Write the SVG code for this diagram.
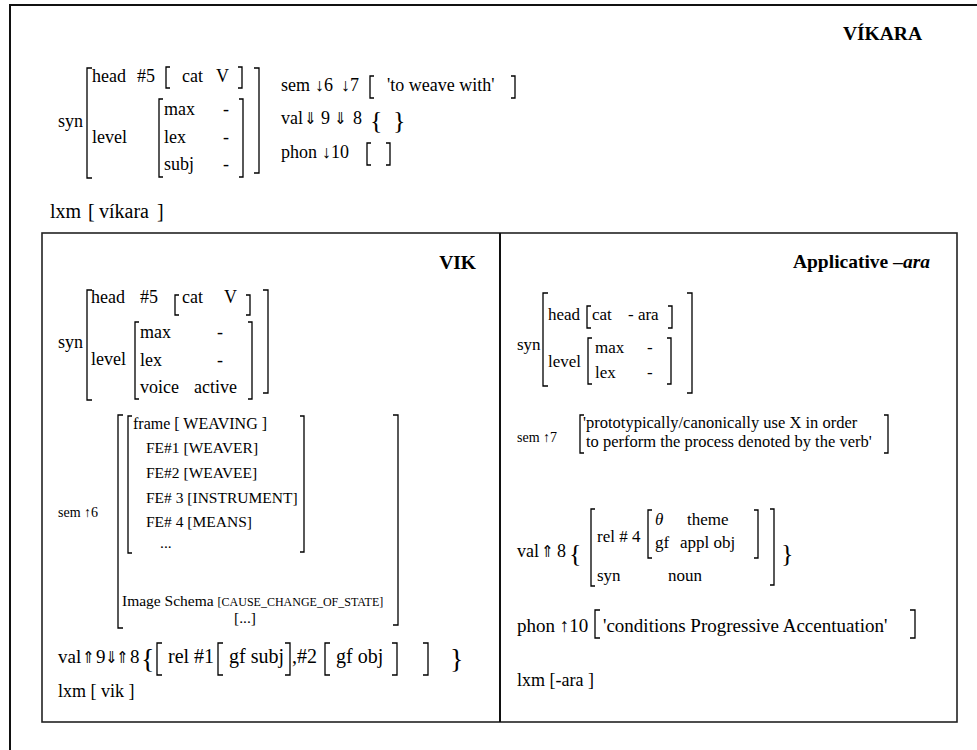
<svg xmlns="http://www.w3.org/2000/svg" width="977" height="750" viewBox="0 0 977 750">
<style>
.t{font-family:"Liberation Serif","Times New Roman",serif;fill:#000}
.ar{font-family:"DejaVu Sans Condensed","DejaVu Sans","Liberation Sans",sans-serif;font-stretch:condensed;font-size:16.5px;fill:#000}
.s18{font-size:18px}
.s17{font-size:17px}
.s16{font-size:16.5px}
.s15{font-size:15.5px}
.s14{font-size:14px}
.ttl{font-family:"Liberation Serif","Times New Roman",serif;font-weight:bold;font-size:19.5px;fill:#000}
.br{fill:none;stroke:#000;stroke-width:1.3}
.frame{fill:none;stroke:#111;stroke-width:2}
</style>
<rect width="977" height="750" fill="#fff"/>
<path class="frame" d="M10,750 V5 H977"/>

<g id="vikara">
  <text class="ttl" x="922" y="40" text-anchor="end">VÍKARA</text>
  <text class="t s18" x="58" y="127">syn</text>
  <path class="br" d="M92,68 H87 V178 H92 M254,68 H259 V173 H254"/>
  <text class="t s18" x="92" y="82">head</text>
  <text class="t s18" x="137" y="82">#5</text>
  <path class="br" d="M170,67 H166 V88 H170 M238,67 H242 V88 H238"/>
  <text class="t s18" x="182" y="82">cat</text>
  <text class="t s18" x="216" y="82">V</text>
  <text class="t s18" x="92" y="143">level</text>
  <path class="br" d="M163,99 H159 V177 H163 M239,99 H243 V177 H239"/>
  <text class="t s18" x="164" y="115">max</text>
  <text class="t s18" x="223" y="115">-</text>
  <text class="t s18" x="164" y="143">lex</text>
  <text class="t s18" x="223" y="143">-</text>
  <text class="t s18" x="164" y="170">subj</text>
  <text class="t s18" x="223" y="170">-</text>
  <text class="t s18" y="91"><tspan x="281">sem</tspan><tspan x="315">↓6</tspan><tspan x="341">↓7</tspan></text>
  <path class="br" d="M374,76 H370 V98 H374 M511,76 H515 V98 H511"/>
  <text class="t s18" x="387" y="91">'to weave with'</text>
  <text class="t s18" x="281" y="124">val</text>
  <text class="ar" x="304" y="124">⇓</text>
  <text class="t s18" x="321" y="124">9</text>
  <text class="ar" x="334" y="124">⇓</text>
  <text class="t s18" x="353" y="124">8</text>
  <text class="t" style="font-size:26px" x="370" y="129">{</text>
  <text class="t" style="font-size:26px" x="393" y="129">}</text>
  <text class="t s18" y="158"><tspan x="281">phon</tspan><tspan x="322">↓10</tspan></text>
  <path class="br" d="M371,143 H367 V165 H371 M386,143 H390 V165 H386"/>
  <text class="t" style="font-size:20px" y="218"><tspan x="50">lxm</tspan><tspan x="88">[</tspan><tspan x="99">víkara</tspan><tspan x="157">]</tspan></text>
</g>

<g id="boxes">
  <rect x="42" y="233" width="915" height="489" fill="none" stroke="#222" stroke-width="1.6"/>
  <path d="M500,233 V722" stroke="#111" stroke-width="2"/>
</g>

<g id="vik">
  <text class="ttl" x="476" y="269" text-anchor="end">VIK</text>
  <text class="t s18" x="58" y="348">syn</text>
  <path class="br" d="M92,290 H87 V400 H92 M263,290 H268 V393 H263"/>
  <text class="t s18" x="91" y="303">head</text>
  <text class="t s18" x="140" y="303">#5</text>
  <path class="br" d="M179,295 H175 V315 H179 M246,295 H250 V315 H246"/>
  <text class="t s18" x="182" y="303">cat</text>
  <text class="t s18" x="224" y="303">V</text>
  <text class="t s18" x="91" y="365">level</text>
  <path class="br" d="M139,322 H135 V399 H139 M248,322 H252 V399 H248"/>
  <text class="t s18" x="140" y="338">max</text>
  <text class="t s18" x="217" y="338">-</text>
  <text class="t s18" x="140" y="366">lex</text>
  <text class="t s18" x="217" y="366">-</text>
  <text class="t s18" x="140" y="393">voice</text>
  <text class="t s18" x="194" y="393">active</text>

  <text class="t s14" x="58" y="517">sem ↑6</text>
  <path class="br" d="M123,415 H118 V628 H123 M393,415 H398 V625 H393"/>
  <path class="br" d="M132,416 H128 V553 H132 M300,416 H304 V552 H300"/>
  <text class="t" style="font-size:16px" x="133" y="429">frame  [ WEAVING ]</text>
  <text class="t s15" x="146" y="453">FE#1 [WEAVER]</text>
  <text class="t s15" x="146" y="478">FE#2 [WEAVEE]</text>
  <text class="t s15" x="146" y="503">FE# 3 [INSTRUMENT]</text>
  <text class="t s15" x="146" y="527">FE# 4 [MEANS]</text>
  <text class="t s15" x="160" y="548">...</text>
  <text class="t s15" x="122" y="606">Image Schema <tspan style="font-size:12px">[CAUSE_CHANGE_OF_STATE]</tspan></text>
  <text class="t s15" x="234" y="623">[...]</text>

  <text class="t" style="font-size:19px" x="58" y="663">val</text>
  <text class="ar" x="82" y="663">⇑</text>
  <text class="t" style="font-size:19px" x="96" y="663">9</text>
  <text class="ar" x="105" y="663">⇓</text>
  <text class="ar" x="116" y="663">⇑</text>
  <text class="t" style="font-size:19px" x="130" y="663">8</text>
  <text class="t" style="font-size:28px" x="141" y="668">{</text>
  <path class="br" d="M162,643 H157 V675 H162"/>
  <text class="t" style="font-size:20px" x="168" y="663">rel #1</text>
  <path class="br" d="M223,643 H218 V675 H223"/>
  <text class="t" style="font-size:20px" x="229" y="663">gf  subj</text>
  <path class="br" d="M285,643 H290 V675 H285"/>
  <text class="t" style="font-size:20px" x="292" y="663">,#2</text>
  <path class="br" d="M330,643 H325 V675 H330"/>
  <text class="t" style="font-size:20px" x="336" y="663">gf obj</text>
  <path class="br" d="M392,643 H397 V675 H392 M423,643 H428 V675 H423"/>
  <text class="t" style="font-size:28px" x="450" y="668">}</text>
  <text class="t s18" x="58" y="697">lxm  [ vik ]</text>
</g>

<g id="applicative">
  <text class="ttl" x="930" y="268" text-anchor="end">Applicative <tspan font-style="italic">–ara</tspan></text>
  <text class="t s17" x="517" y="350">syn</text>
  <path class="br" d="M548,293 H543 V386 H548 M687,293 H692 V393 H687"/>
  <text class="t s17" x="548" y="320">head</text>
  <path class="br" d="M591,306 H587 V328 H591 M668,306 H672 V328 H668"/>
  <text class="t s17" x="592" y="320">cat</text>
  <text class="t s17" x="628" y="320">- ara</text>
  <text class="t s17" x="548" y="367">level</text>
  <path class="br" d="M592,338 H588 V384 H592 M667,338 H671 V384 H667"/>
  <text class="t s17" x="595" y="353">max</text>
  <text class="t s17" x="647" y="353">-</text>
  <text class="t s17" x="595" y="378">lex</text>
  <text class="t s17" x="647" y="378">-</text>

  <text class="t s14" x="517" y="442">sem ↑7</text>
  <path class="br" d="M584,415 H580 V453 H584 M884,415 H888 V453 H884"/>
  <text class="t s16" x="583" y="428">'prototypically/canonically use X in order</text>
  <text class="t s16" x="586" y="447">to perform the process denoted by the verb'</text>

  <text class="t s18" x="517" y="557">val</text>
  <text class="ar" x="541" y="557">⇑</text>
  <text class="t s18" x="557" y="557">8</text>
  <text class="t" style="font-size:26px" x="569" y="562">{</text>
  <path class="br" d="M595,509 H591 V586 H595 M770,509 H774 V585 H770"/>
  <text class="t s17" x="597" y="542">rel # 4</text>
  <path class="br" d="M652,510 H648 V558 H652 M754,510 H758 V558 H754"/>
  <text class="t s17" x="655" y="525" font-style="italic">θ</text>
  <text class="t s17" x="687" y="525">theme</text>
  <text class="t s17" x="655" y="548">gf</text>
  <text class="t s17" x="680" y="548">appl obj</text>
  <text class="t s17" x="597" y="581">syn</text>
  <text class="t s17" x="668" y="581">noun</text>
  <text class="t" style="font-size:26px" x="781" y="562">}</text>

  <text class="t" style="font-size:19px" x="517" y="632">phon ↑10</text>
  <path class="br" d="M600,610 H595 V638 H600 M910,610 H915 V638 H910"/>
  <text class="t" style="font-size:19px" x="603" y="632">'conditions Progressive Accentuation'</text>
  <text class="t s18" x="517" y="686">lxm [-ara ]</text>
</g>
</svg>
